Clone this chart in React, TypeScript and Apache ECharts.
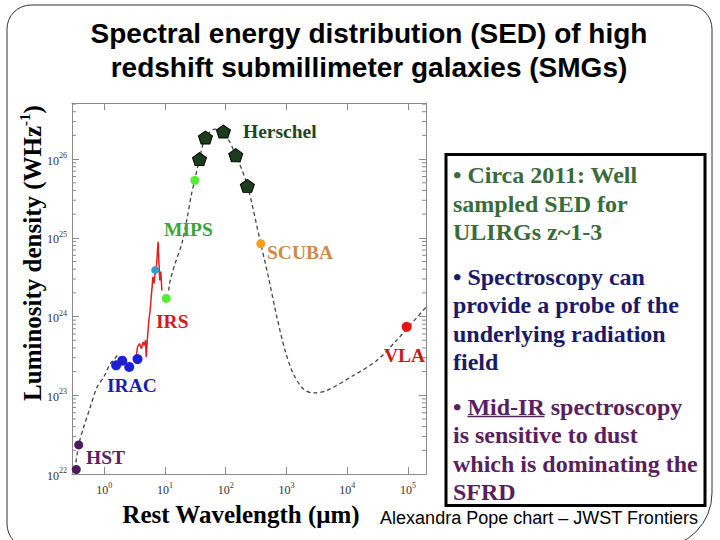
import React, { useEffect, useRef } from 'react';
import * as echarts from 'echarts';

// Plot extent: rest wavelength (µm) and luminosity density (W/Hz)
const X_MIN = 0.295;
const X_MAX = 1.98e5;
const Y_MIN = 1e22;
const Y_MAX = 5.16e26;

// Photometry by instrument
const hstWave = [0.347, 0.38];
const hstLum = [1.14e22, 2.34e22];
const iracWave = [1.57, 1.98, 2.58, 3.53];
const iracLum = [2.4e23, 2.75e23, 2.29e23, 2.88e23];
const irsPhotWave = [6.9];
const irsPhotLum = [3.89e24];
const mipsWave = [10.5, 31.0];
const mipsLum = [1.7e24, 5.37e25];
const herschelWave = [37.0, 46.4, 91.6, 146.5, 227];
const herschelLum = [1.0e26, 1.88e26, 2.24e26, 1.12e26, 4.57e25];
const scubaWave = [378];
const scubaLum = [8.41e24];
const vlaWave = [95000];
const vlaLum = [7.41e23];

// IRS mid-IR spectrum
const irsSpecWave = [3.36, 3.53, 3.81, 4.11, 4.33, 4.55, 4.79, 4.91, 5.16, 5.43, 5.71, 5.93, 6.15, 6.31, 6.64, 6.9, 7.16, 7.35, 7.53, 7.73, 7.94, 8.22, 8.55, 8.89];
const irsSpecLum = [3.06e23, 4.1e23, 4.53e23, 3.91e23, 4.75e23, 4.31e23, 4.99e23, 3.06e23, 5.51e23, 8.97e23, 1.2e24, 1.78e24, 2.38e24, 3.2e24, 2.63e24, 3.71e24, 3.89e24, 5.01e24, 6.92e24, 8.91e24, 5.01e24, 2.88e24, 3.72e24, 2.14e24];

// Template SED (near-IR stellar part and dust + radio part)
const modelNirWave = [0.33, 0.38, 0.457, 0.589, 0.759, 0.98, 1.26, 1.72];
const modelNirLum = [1.15e22, 2.34e22, 3.89e22, 7.08e22, 1.26e23, 1.7e23, 2.51e23, 3.31e23];
const modelFirWave = [11.5, 12.2, 14.7, 19.0, 22.9, 26.9, 30.9, 37.0, 46.5, 67.0, 91.6, 147, 228, 378, 505, 692, 948, 1300, 1900, 2770, 4570, 12600, 30500, 65200, 198000];
const modelFirLum = [2.14e24, 2.88e24, 4.73e24, 8.51e24, 1.7e25, 3.39e25, 5.37e25, 1.0e26, 1.88e26, 2.4e26, 2.24e26, 1.12e26, 4.57e25, 8.41e24, 3.16e24, 1.0e24, 3.72e23, 1.86e23, 1.2e23, 1.07e23, 1.15e23, 1.78e23, 2.75e23, 5.01e23, 1.32e24];

// Minor tick decades and multipliers on the luminosity axis
const minorDecades = [22, 23, 24, 25, 26];
const minorSteps = [2, 3, 4, 5, 6, 7, 8, 9];

const zip = (a: number[], b: number[]) => a.map((v, i) => [v, b[i]]);

const SERIF = '"Liberation Serif", "Times New Roman", serif';
const SANS = '"Liberation Sans", Arial, sans-serif';
const AXIS_GRAY = '#8a8a8a';

const PENTAGON = 'path://M50,0 L97.6,34.5 L79.4,90.5 L20.6,90.5 L2.4,34.5 Z';

const powLabel = (v: number) => {
  const e = Math.log10(v);
  const r = Math.round(e);
  return Math.abs(e - r) < 1e-6 ? `{b|10}{s|${r}}` : '';
};

const tickRich = {
  b: { fontFamily: SERIF, fontSize: 12, color: '#333', lineHeight: 15, verticalAlign: 'bottom' },
  s: { fontFamily: SERIF, fontSize: 8, color: '#333', lineHeight: 8, verticalAlign: 'top' },
};

const boxLines = [
  { text: '• Circa 2011: Well', color: '#3b6b3b', y: 175 },
  { text: 'sampled SED for', color: '#3b6b3b', y: 203.5 },
  { text: 'ULIRGs z~1-3', color: '#3b6b3b', y: 232 },
  { text: '• Spectroscopy can', color: '#1a1a68', y: 276.5 },
  { text: 'provide a probe of the', color: '#1a1a68', y: 305 },
  { text: 'underlying radiation', color: '#1a1a68', y: 333.5 },
  { text: 'field', color: '#1a1a68', y: 362 },
  { text: '• Mid-IR spectroscopy', color: '#5a1f5e', y: 406.5 },
  { text: 'is sensitive to dust', color: '#5a1f5e', y: 435 },
  { text: 'which is dominating the', color: '#5a1f5e', y: 463.5 },
  { text: 'SFRD', color: '#5a1f5e', y: 492 },
];

const plotLabels = [
  { text: 'Herschel', color: '#1e4620', x: 243, y: 131.5 },
  { text: 'MIPS', color: '#3aa63a', x: 164, y: 229 },
  { text: 'SCUBA', color: '#cf8a4c', x: 267, y: 252.5 },
  { text: 'IRS', color: '#d01c1c', x: 156, y: 321.5 },
  { text: 'VLA', color: '#cc1a1a', x: 384, y: 355.5 },
  { text: 'IRAC', color: '#1c1cb0', x: 107, y: 385.5 },
  { text: 'HST', color: '#5c1e66', x: 86, y: 457 },
];

function buildOption() {
  const minorTicks: number[][] = [];
  minorDecades.forEach((d) => {
    minorSteps.forEach((m) => {
      const v = m * Math.pow(10, d);
      if (v < Y_MAX) minorTicks.push([X_MIN, v]);
    });
  });

  const scatter = (name: string, data: number[][], color: string, size: any, extra: any = {}) => ({
    name,
    type: 'scatter',
    data,
    symbolSize: size,
    z: 5,
    itemStyle: { color, opacity: 1, ...(extra.itemStyle || {}) },
    symbol: extra.symbol || 'circle',
  });

  const graphics: any[] = [
    // slide frame
    {
      type: 'rect',
      shape: { x: 7, y: 5, width: 705, height: 543, r: [24, 24, 55, 24] },
      style: { fill: 'none', stroke: '#333', lineWidth: 1 },
      silent: true,
    },
    {
      type: 'text', x: 369, y: 33, silent: true,
      style: { text: 'Spectral energy distribution (SED) of high', fill: '#000', fontFamily: SANS, fontWeight: 'bold', fontSize: 28, align: 'center', verticalAlign: 'middle' },
    },
    {
      type: 'text', x: 369, y: 67, silent: true,
      style: { text: 'redshift submillimeter galaxies (SMGs)', fill: '#000', fontFamily: SANS, fontWeight: 'bold', fontSize: 28, align: 'center', verticalAlign: 'middle' },
    },
    {
      type: 'text', x: 31, y: 253, rotation: Math.PI / 2, silent: true,
      style: {
        text: '{n|Luminosity density (WHz}{s|-1}{n|)}',
        align: 'center', verticalAlign: 'middle',
        rich: {
          n: { fontFamily: SERIF, fontWeight: 'bold', fontSize: 25, fill: '#000', lineHeight: 28, verticalAlign: 'bottom' },
          s: { fontFamily: SERIF, fontWeight: 'bold', fontSize: 15, fill: '#000', lineHeight: 16, verticalAlign: 'top' },
        },
      },
    },
    {
      type: 'text', x: 241, y: 514, silent: true,
      style: { text: 'Rest Wavelength (μm)', fill: '#000', fontFamily: SERIF, fontWeight: 'bold', fontSize: 25, align: 'center', verticalAlign: 'middle' },
    },
    // text panel
    {
      type: 'rect', silent: true,
      shape: { x: 446, y: 154.5, width: 259, height: 351 },
      style: { fill: '#fff', stroke: '#000', lineWidth: 3 },
    },
    ...boxLines.map((l) => ({
      type: 'text', x: 453, y: l.y, silent: true,
      style: { text: l.text, fill: l.color, fontFamily: SERIF, fontWeight: 'bold', fontSize: 24, align: 'left', verticalAlign: 'middle' },
    })),
    {
      type: 'line', silent: true,
      shape: { x1: 467.5, y1: 416.5, x2: 544.5, y2: 416.5 },
      style: { stroke: '#5a1f5e', lineWidth: 1.6 },
    },
    {
      type: 'text', x: 539, y: 518, silent: true,
      style: { text: 'Alexandra Pope chart – JWST Frontiers', fill: '#000', fontFamily: SANS, fontSize: 18, align: 'center', verticalAlign: 'middle' },
    },
    ...plotLabels.map((l) => ({
      type: 'text', x: l.x, y: l.y, silent: true, z: 10,
      style: { text: l.text, fill: l.color, fontFamily: SERIF, fontWeight: 'bold', fontSize: 19.5, align: 'left', verticalAlign: 'middle' },
    })),
  ];

  const xCommon = {
    type: 'log',
    logBase: 10,
    min: X_MIN,
    max: X_MAX,
    splitLine: { show: false },
    axisLine: { show: true, lineStyle: { color: AXIS_GRAY, width: 1 } },
    axisTick: { show: true, inside: true, length: 7, lineStyle: { color: AXIS_GRAY } },
  };
  const yCommon = {
    type: 'log',
    logBase: 10,
    min: Y_MIN,
    max: Y_MAX,
    splitLine: { show: false },
    axisLine: { show: true, lineStyle: { color: AXIS_GRAY, width: 1 } },
    axisTick: { show: true, inside: true, length: 7, lineStyle: { color: AXIS_GRAY } },
  };

  return {
    animation: false,
    backgroundColor: '#fff',
    grid: { left: 72, right: 294, top: 103, bottom: 66, containLabel: false, outerBoundsMode: 'none' },
    xAxis: [
      { ...xCommon, position: 'bottom', axisLabel: { formatter: powLabel, margin: 7, rich: tickRich } },
      { ...xCommon, position: 'top', axisLabel: { show: false } },
    ],
    yAxis: [
      { ...yCommon, position: 'left', axisLabel: { formatter: powLabel, margin: 5, rich: tickRich } },
      { ...yCommon, position: 'right', axisLabel: { show: false } },
    ],
    graphic: { elements: graphics },
    series: [
      {
        name: 'minor ticks',
        type: 'custom',
        data: minorTicks,
        z: 1,
        silent: true,
        renderItem: (params: any, api: any) => {
          const y = api.coord([X_MIN, api.value(1)])[1];
          const cs = params.coordSys;
          const st = { stroke: AXIS_GRAY, lineWidth: 1 };
          return {
            type: 'group',
            children: [
              { type: 'line', shape: { x1: cs.x, y1: y, x2: cs.x + 4, y2: y }, style: st },
              { type: 'line', shape: { x1: cs.x + cs.width - 4, y1: y, x2: cs.x + cs.width, y2: y }, style: st },
            ],
          };
        },
      },
      {
        name: 'template near-IR',
        type: 'line',
        data: zip(modelNirWave, modelNirLum),
        showSymbol: false,
        symbol: 'none',
        smooth: 0.3,
        z: 2,
        lineStyle: { color: '#444', width: 1.3, type: [4, 3] },
      },
      {
        name: 'template far-IR',
        type: 'line',
        data: zip(modelFirWave, modelFirLum),
        showSymbol: false,
        symbol: 'none',
        smooth: 0.3,
        z: 2,
        lineStyle: { color: '#444', width: 1.3, type: [4, 3] },
      },
      {
        name: 'IRS spectrum',
        type: 'line',
        data: zip(irsSpecWave, irsSpecLum),
        showSymbol: false,
        symbol: 'none',
        z: 3,
        lineStyle: { color: '#dd2020', width: 1.5 },
      },
      scatter('HST', zip(hstWave, hstLum), '#4e1a5e', 9),
      scatter('IRAC', zip(iracWave, iracLum), '#1f1fd6', 10),
      scatter('IRS', zip(irsPhotWave, irsPhotLum), '#3a9ad0', 8),
      scatter('MIPS', zip(mipsWave, mipsLum), '#55ee33', 9),
      scatter('Herschel', zip(herschelWave, herschelLum), '#1b3d1b', [14, 13], {
        symbol: PENTAGON,
        itemStyle: { borderColor: '#000', borderWidth: 1 },
      }),
      scatter('SCUBA', zip(scubaWave, scubaLum), '#f5a020', 9),
      scatter('VLA', zip(vlaWave, vlaLum), '#ee1111', 10),
    ],
  };
}

export default function App() {
  const ref = useRef<HTMLDivElement>(null);
  useEffect(() => {
    if (!ref.current) return;
    const chart = echarts.init(ref.current, undefined, { renderer: 'svg' });
    chart.setOption(buildOption() as any);
    return () => chart.dispose();
  }, []);
  return (
    <div
      ref={ref}
      style={{ position: 'fixed', left: 0, top: 0, width: 720, height: 540, background: '#fff' }}
    />
  );
}
